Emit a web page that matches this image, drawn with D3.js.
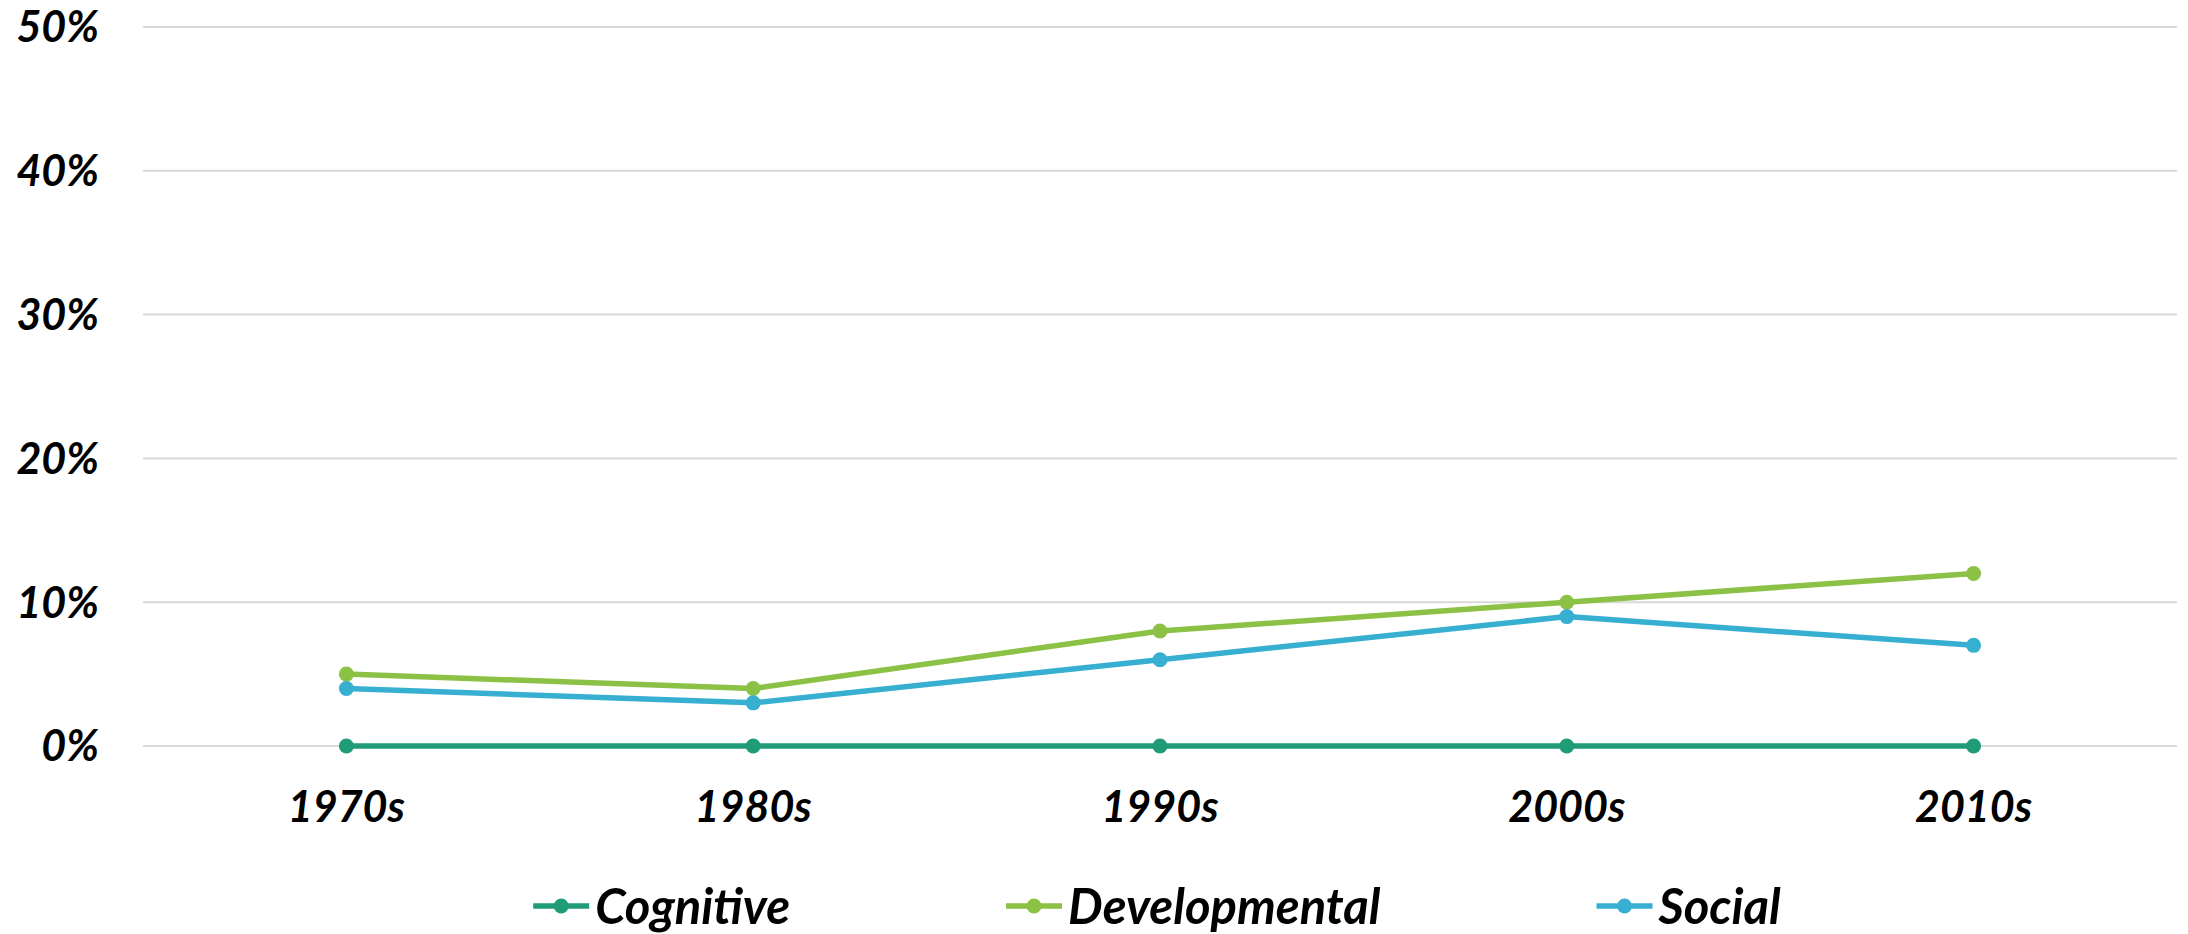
<!DOCTYPE html>
<html>
<head>
<meta charset="utf-8">
<script src="https://cdn.jsdelivr.net/npm/d3@7"></script>
<style>
  body { margin: 0; background: #fff; }
  text { font-family: Lato, "Open Sans", sans-serif; font-weight: bold; font-style: italic; fill: #000; }
</style>
</head>
<body>
<div id="chart"></div>
<script>
const decades = ["1970s", "1980s", "1990s", "2000s", "2010s"];
const cognitive = [0, 0, 0, 0, 0];
const developmental = [0.05, 0.04, 0.08, 0.10, 0.12];
const social = [0.04, 0.03, 0.06, 0.09, 0.07];
const yTicks = [0, 0.1, 0.2, 0.3, 0.4, 0.5];

const series = [
  { name: "Cognitive", values: cognitive, color: "#1f9b77" },
  { name: "Developmental", values: developmental, color: "#8bc145" },
  { name: "Social", values: social, color: "#36afd0" }
];

const width = 2188, height = 934;
const plotLeft = 143, plotRight = 2177, plotTop = 27, plotBottom = 746;

const svg = d3.select("#chart").append("svg")
  .attr("width", width)
  .attr("height", height);

const x = d3.scalePoint().domain(decades).range([plotLeft, plotRight]).padding(0.5);
const y = d3.scaleLinear().domain([0, 0.5]).range([plotBottom, plotTop]);

// gridlines
svg.append("g").selectAll("line")
  .data(yTicks)
  .enter().append("line")
  .attr("x1", plotLeft).attr("x2", plotRight)
  .attr("y1", d => y(d)).attr("y2", d => y(d))
  .attr("stroke", "#d9d9d9")
  .attr("stroke-width", 2);

// y labels
svg.append("g").selectAll("text")
  .data(yTicks)
  .enter().append("text")
  .attr("x", 99)
  .attr("y", d => y(d))
  .attr("dy", "0.36em")
  .attr("text-anchor", "end")
  .style("font-size", "43px")
  .text(d3.format(".0%"));

// x labels
svg.append("g").selectAll("text")
  .data(decades)
  .enter().append("text")
  .attr("x", d => x(d))
  .attr("y", 807)
  .attr("dy", "0.36em")
  .attr("text-anchor", "middle")
  .style("font-size", "43px")
  .text(d => d);

const line = d3.line()
  .x((d, i) => x(decades[i]))
  .y(d => y(d));

series.forEach(s => {
  const g = svg.append("g");
  g.append("path")
    .attr("d", line(s.values))
    .attr("fill", "none")
    .attr("stroke", s.color)
    .attr("stroke-width", 5.5)
    .attr("stroke-linejoin", "round");
  g.selectAll("circle")
    .data(s.values)
    .enter().append("circle")
    .attr("cx", (d, i) => x(decades[i]))
    .attr("cy", d => y(d))
    .attr("r", 7.5)
    .attr("fill", s.color);
});

// legend
const legend = svg.append("g");
const legendY = 906, markerW = 56, gap = 216;
const items = series.map(s => {
  const g = legend.append("g");
  g.append("line")
    .attr("x1", 0).attr("x2", markerW)
    .attr("y1", legendY).attr("y2", legendY)
    .attr("stroke", s.color).attr("stroke-width", 5.5);
  g.append("circle")
    .attr("cx", markerW / 2).attr("cy", legendY).attr("r", 7.5)
    .attr("fill", s.color);
  const t = g.append("text")
    .attr("x", markerW + 6)
    .attr("y", legendY)
    .attr("dy", "0.36em")
    .style("font-size", "49px")
    .text(s.name);
  return { g, w: markerW + 6 + t.node().getComputedTextLength() };
});
const total = d3.sum(items, d => d.w) + gap * (items.length - 1);
let cx = 1157 - total / 2;
items.forEach(it => {
  it.g.attr("transform", `translate(${cx},0)`);
  cx += it.w + gap;
});
</script>
</body>
</html>
